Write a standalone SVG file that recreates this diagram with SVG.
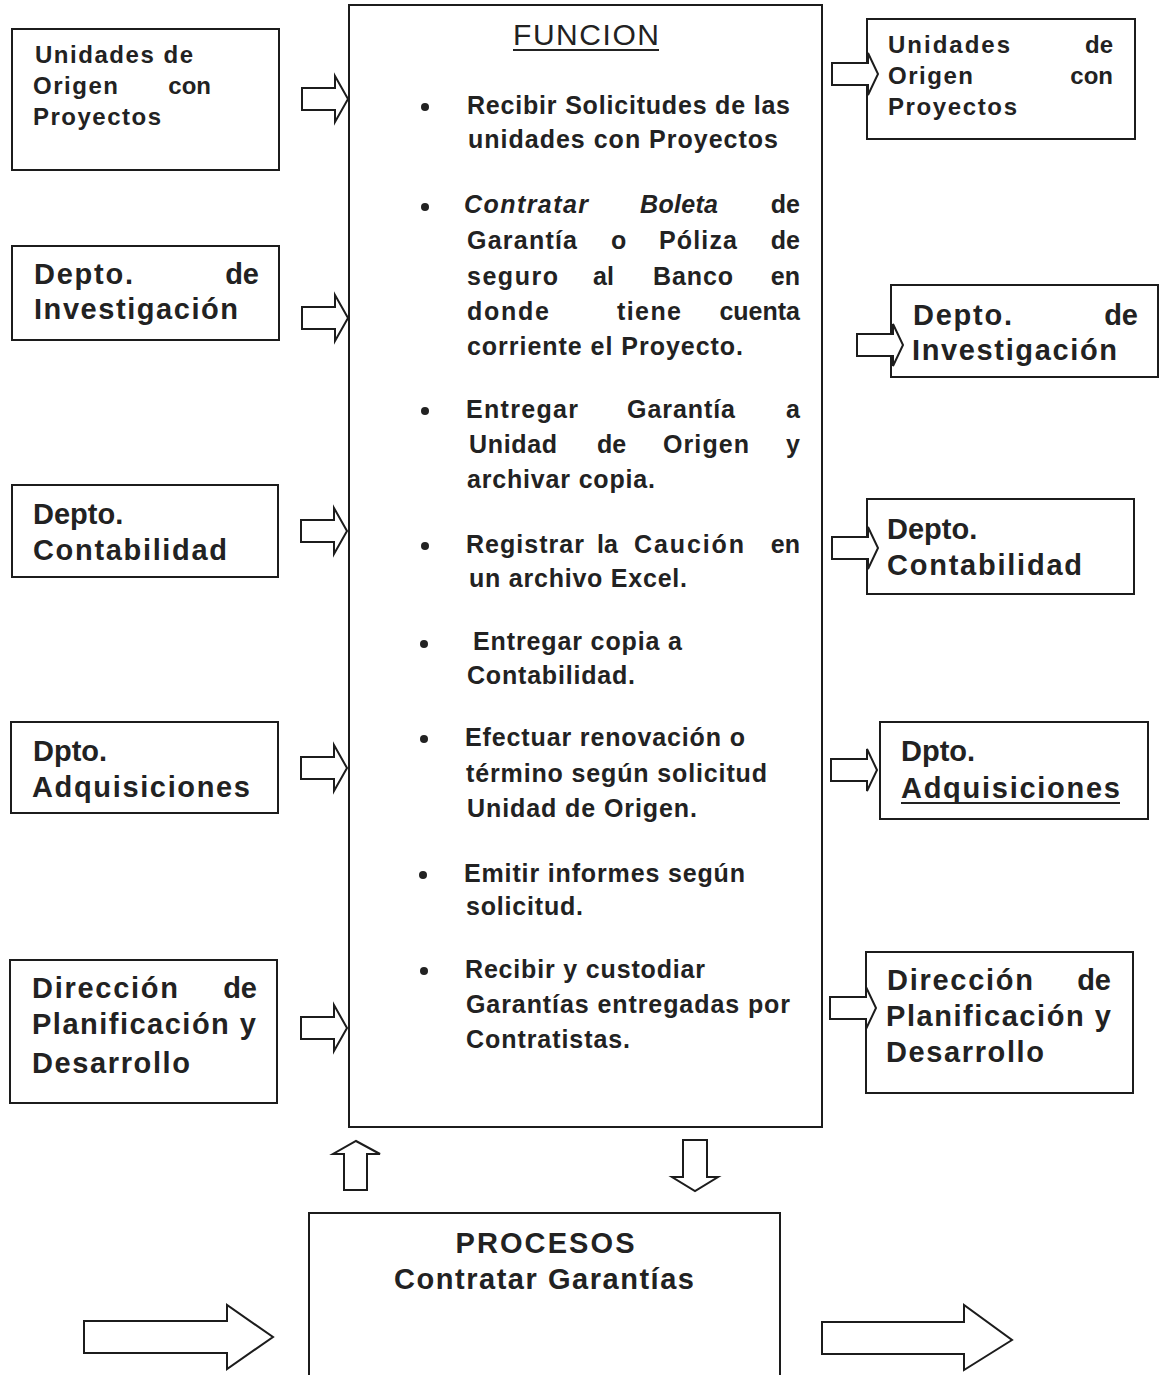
<svg xmlns="http://www.w3.org/2000/svg" xmlns:xlink="http://www.w3.org/1999/xlink" width="1161" height="1375" viewBox="0 0 1161 1375">
<style>
  .box{fill:#fff;stroke:#1c1c1c;stroke-width:2}
  .arr{fill:#fff;stroke:#1c1c1c;stroke-width:2;stroke-linejoin:miter}
  text{font-family:"Liberation Sans",Arial,sans-serif;fill:#222}
  .t{font-size:25px;font-weight:bold}
  .s{font-size:24px;font-weight:bold}
  .l{font-size:29px;font-weight:bold}
  .i{font-style:italic}
  .e{text-anchor:end}
  .m{text-anchor:middle}
  .bul{fill:#222}
</style>
<defs>
  <path id="la" d="M0,-11 H33 V-23 L46,0 L33,23 V11 H0 Z"/>
  <path id="ra" d="M0,-11 H36 V-21 L46,0 L36,21 V11 H0 Z"/>
</defs>
<rect width="1161" height="1375" fill="#fff"/>

<g id="funcion">
  <rect class="box" x="349" y="5" width="473" height="1122"/>
  <text x="513" y="45" font-size="30" textLength="146">FUNCION</text>
  <line x1="513" y1="50" x2="659" y2="50" stroke="#222" stroke-width="2"/>
  <g class="bul">
    <circle cx="425" cy="107" r="4"/><circle cx="425" cy="207" r="4"/>
    <circle cx="425" cy="411" r="4"/><circle cx="425" cy="546" r="4"/>
    <circle cx="424" cy="644" r="4"/><circle cx="424" cy="739" r="4"/>
    <circle cx="423" cy="875" r="4"/><circle cx="424" cy="971" r="4"/>
  </g>
  <text class="t" x="467" y="114" textLength="323">Recibir Solicitudes de las</text>
  <text class="t" x="468" y="148" textLength="310">unidades con Proyectos</text>

  <text class="t i" x="464" y="213" textLength="124">Contratar</text>
  <text class="t i" x="640" y="213" textLength="78">Boleta</text>
  <text class="t e" x="800" y="213">de</text>
  <text class="t" x="467" y="249" textLength="110">Garantía</text>
  <text class="t" x="611" y="249">o</text>
  <text class="t" x="659" y="249" textLength="78">Póliza</text>
  <text class="t e" x="800" y="249">de</text>
  <text class="t" x="467" y="285" textLength="91">seguro</text>
  <text class="t" x="593" y="285">al</text>
  <text class="t" x="653" y="285" textLength="80">Banco</text>
  <text class="t e" x="800" y="285">en</text>
  <text class="t" x="467" y="320" textLength="82">donde</text>
  <text class="t" x="617" y="320" textLength="64">tiene</text>
  <text class="t e" x="800" y="320">cuenta</text>
  <text class="t" x="467" y="355" textLength="276">corriente el Proyecto.</text>

  <text class="t" x="466" y="418" textLength="112">Entregar</text>
  <text class="t" x="627" y="418" textLength="108">Garantía</text>
  <text class="t e" x="800" y="418">a</text>
  <text class="t" x="469" y="453" textLength="88">Unidad</text>
  <text class="t" x="597" y="453">de</text>
  <text class="t" x="663" y="453" textLength="86">Origen</text>
  <text class="t e" x="800" y="453">y</text>
  <text class="t" x="467" y="488" textLength="188">archivar copia.</text>

  <text class="t" x="466" y="553" textLength="118">Registrar</text>
  <text class="t" x="597" y="553">la</text>
  <text class="t" x="634" y="553" textLength="110">Caución</text>
  <text class="t e" x="800" y="553">en</text>
  <text class="t" x="469" y="587" textLength="218">un archivo Excel.</text>

  <text class="t" x="473" y="650" textLength="209">Entregar copia a</text>
  <text class="t" x="467" y="684" textLength="168">Contabilidad.</text>

  <text class="t" x="465" y="746" textLength="280">Efectuar renovación o</text>
  <text class="t" x="466" y="782" textLength="301">término según solicitud</text>
  <text class="t" x="467" y="817" textLength="230">Unidad de Origen.</text>

  <text class="t" x="464" y="882" textLength="281">Emitir informes según</text>
  <text class="t" x="466" y="915" textLength="117">solicitud.</text>

  <text class="t" x="465" y="978" textLength="240">Recibir y custodiar</text>
  <text class="t" x="466" y="1013" textLength="324">Garantías entregadas por</text>
  <text class="t" x="466" y="1048" textLength="164">Contratistas.</text>
</g>

<g id="left-unidades">
  <rect class="box" x="12" y="29" width="267" height="141"/>
  <text class="s" x="35" y="63" textLength="158">Unidades de</text>
  <text class="s" x="33" y="94" textLength="85">Origen</text>
  <text class="s e" x="211" y="94">con</text>
  <text class="s" x="33" y="125" textLength="128">Proyectos</text>
</g>
<g id="left-investigacion">
  <rect class="box" x="12" y="246" width="267" height="94"/>
  <text class="l" x="34" y="284" textLength="99">Depto.</text>
  <text class="l e" x="259" y="284">de</text>
  <text class="l" x="34" y="319" textLength="204">Investigación</text>
</g>
<g id="left-contabilidad">
  <rect class="box" x="12" y="485" width="266" height="92"/>
  <text class="l" x="33" y="524">Depto.</text>
  <text class="l" x="33" y="560" textLength="194">Contabilidad</text>
</g>
<g id="left-adquisiciones">
  <rect class="box" x="11" y="722" width="267" height="91"/>
  <text class="l" x="33" y="761">Dpto.</text>
  <text class="l" x="32" y="797" textLength="218">Adquisiciones</text>
</g>
<g id="left-planificacion">
  <rect class="box" x="10" y="960" width="267" height="143"/>
  <text class="l" x="32" y="998" textLength="146">Dirección</text>
  <text class="l e" x="257" y="998">de</text>
  <text class="l" x="32" y="1034" textLength="224">Planificación y</text>
  <text class="l" x="32" y="1073" textLength="158">Desarrollo</text>
</g>

<g id="right-unidades">
  <rect class="box" x="867" y="19" width="268" height="120"/>
  <text class="s" x="888" y="53" textLength="122">Unidades</text>
  <text class="s e" x="1113" y="53">de</text>
  <text class="s" x="888" y="84" textLength="85">Origen</text>
  <text class="s e" x="1113" y="84">con</text>
  <text class="s" x="888" y="115" textLength="129">Proyectos</text>
</g>
<g id="right-investigacion">
  <rect class="box" x="891" y="285" width="267" height="92"/>
  <text class="l" x="913" y="325" textLength="99">Depto.</text>
  <text class="l e" x="1138" y="325">de</text>
  <text class="l" x="912" y="360" textLength="205">Investigación</text>
</g>
<g id="right-contabilidad">
  <rect class="box" x="867" y="499" width="267" height="95"/>
  <text class="l" x="887" y="539">Depto.</text>
  <text class="l" x="887" y="575" textLength="195">Contabilidad</text>
</g>
<g id="right-adquisiciones">
  <rect class="box" x="880" y="722" width="268" height="97"/>
  <text class="l" x="901" y="761">Dpto.</text>
  <text class="l" x="901" y="798" textLength="219">Adquisiciones</text>
  <line x1="901" y1="803" x2="1120" y2="803" stroke="#222" stroke-width="2"/>
</g>
<g id="right-planificacion">
  <rect class="box" x="866" y="952" width="267" height="141"/>
  <text class="l" x="887" y="990" textLength="146">Dirección</text>
  <text class="l e" x="1111" y="990">de</text>
  <text class="l" x="886" y="1026" textLength="225">Planificación y</text>
  <text class="l" x="886" y="1062" textLength="158">Desarrollo</text>
</g>

<g id="procesos">
  <rect class="box" x="309" y="1213" width="471" height="180"/>
  <text class="l m" x="545" y="1253" textLength="179">PROCESOS</text>
  <text class="l m" x="544" y="1289" textLength="300">Contratar Garantías</text>
</g>

<g id="connectors">
  <use href="#la" class="arr" x="302" y="99"/>
  <use href="#la" class="arr" x="302" y="318"/>
  <use href="#la" class="arr" x="301" y="531"/>
  <use href="#la" class="arr" x="301" y="768"/>
  <use href="#la" class="arr" x="301" y="1028"/>
  <use href="#ra" class="arr" x="832" y="74"/>
  <use href="#ra" class="arr" x="857" y="345"/>
  <use href="#ra" class="arr" x="832" y="548"/>
  <use href="#ra" class="arr" x="831" y="770"/>
  <use href="#ra" class="arr" x="830" y="1008"/>
  <path class="arr" d="M344,1190 V1154 H333 L356,1141 L380,1154 H367 V1190 Z"/>
  <path class="arr" d="M683,1140 H707 V1177 H718 L695,1191 L672,1177 H683 Z"/>
  <path class="arr" d="M84,1321 H227 V1305 L273,1337 L227,1369 V1353 H84 Z"/>
  <path class="arr" d="M822,1322 H964 V1305 L1012,1340 L964,1370 V1354 H822 Z"/>
</g>
</svg>
